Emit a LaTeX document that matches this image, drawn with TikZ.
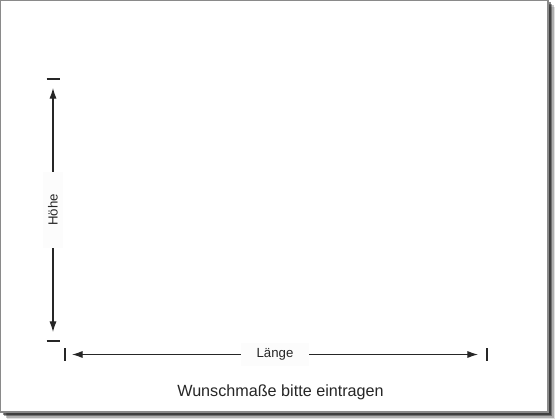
\documentclass[tikz,border=0pt]{standalone}
\usepackage{fontspec}
\setmainfont{Liberation Sans}
\usepackage{tikz}
\usepackage{xcolor}
\usetikzlibrary{arrows.meta,calc}

\definecolor{framegray}{HTML}{8A8A8A}
\definecolor{inkgray}{HTML}{262626}
\definecolor{labelbg}{HTML}{FCFCFC}

\begin{document}
\begin{tikzpicture}[x=0.025cm, y=-0.025cm,
    dimline/.style={draw=inkgray, line width=0.75pt, {Latex[length=7.5pt,width=5pt]}-{Latex[length=7.5pt,width=5pt]}},
    tickline/.style={draw=inkgray, line width=0.9pt},
    dimlabel/.style={fill=labelbg, text=inkgray, font=\fontsize{9.4}{11}\selectfont, inner ysep=4pt}]
    \useasboundingbox (0,0) rectangle (560,420);

    % Shadow of the sheet
    \foreach \d/\o in {7/0.12, 5.5/0.22, 4/0.35, 2.5/0.45} {
        \fill[black, opacity=\o] (\d,\d) rectangle (548+\d,412+\d);
    }

    % Sheet
    \fill[white] (0,0) rectangle (548,412);
    \draw[framegray, line width=1.2pt] (0.6,0.6) rectangle (548,412);

    % Height
    \coordinate (hTop) at (53,79);
    \coordinate (hBot) at (53,341);
    \draw[tickline] ($(hTop)+(-6.5,0)$) -- ($(hTop)+(6.5,0)$);
    \draw[tickline] ($(hBot)+(-6.5,0)$) -- ($(hBot)+(6.5,0)$);
    \draw[dimline] ($(hTop)+(0,9)$) -- ($(hBot)+(0,-9)$)
        node[midway, dimlabel, rotate=90, inner xsep=16pt] (hoehe) {Höhe};

    % Length
    \coordinate (lLeft) at (65,354.5);
    \coordinate (lRight) at (487,354.5);
    \draw[tickline] ($(lLeft)+(0,-6.5)$) -- ($(lLeft)+(0,6.5)$);
    \draw[tickline] ($(lRight)+(0,-6.5)$) -- ($(lRight)+(0,6.5)$);
    \draw[dimline] ($(lLeft)+(7,0)$) -- ($(lRight)+(-9,0)$)
        node[midway, dimlabel, inner xsep=11pt] (laenge) {Länge};

    % Caption
    \node[anchor=base, text=inkgray, font=\fontsize{11.5}{14}\selectfont] (caption) at (280.5,396) {Wunschmaße bitte eintragen};
\end{tikzpicture}
\end{document}
